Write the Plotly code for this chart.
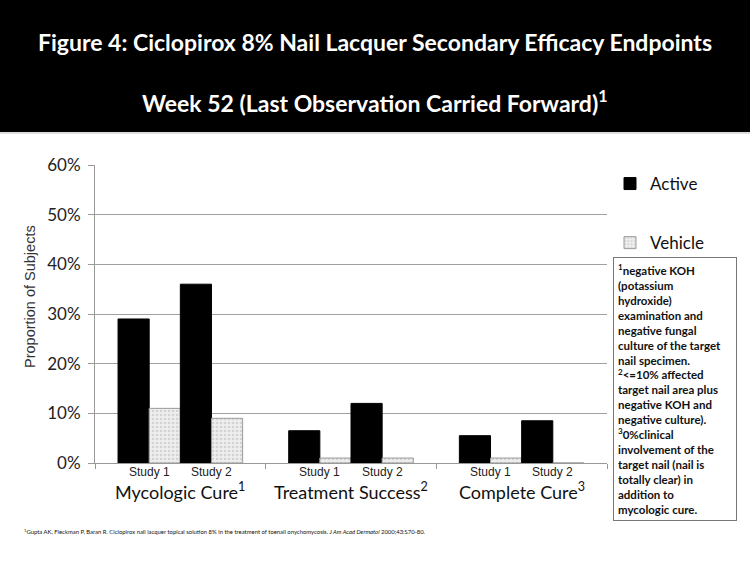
import plotly.graph_objects as go

categories = ["Mycologic Cure<sup>1</sup>", "Treatment Success<sup>2</sup>", "Complete Cure<sup>3</sup>"]
studies = ["Study 1", "Study 2"]
active_study1 = [0.29, 0.065, 0.055]
vehicle_study1 = [0.11, 0.01, 0.01]
active_study2 = [0.36, 0.12, 0.085]
vehicle_study2 = [0.09, 0.01, 0.0]
y_ticks = [0, 0.1, 0.2, 0.3, 0.4, 0.5, 0.6]

W, H = 750, 563
ML, MR, MT, MB = 95, 143, 165, 100
BARGAP = 0.27

def px(x):
    return (x - ML) / (W - ML - MR)

def py(y):
    return (H - MB - y) / (H - MT - MB)

xs = list(range(len(categories)))
FONT = "Lato"

vstyle = dict(color="#ececec", line=dict(color="#9a9a9a", width=1),
              pattern=dict(shape=".", fgcolor="#b8b8b8", bgcolor="#eeeeee", size=4, solidity=0.35))
astyle = dict(color="#000000", line=dict(color="#000000", width=1))

fig = go.Figure()
fig.add_bar(x=xs, y=active_study1, name="Active", legendgroup="a", marker=astyle)
fig.add_bar(x=xs, y=vehicle_study1, name="Vehicle", legendgroup="v", marker=vstyle)
fig.add_bar(x=xs, y=active_study2, name="Active", legendgroup="a", showlegend=False, marker=astyle)
fig.add_bar(x=xs, y=vehicle_study2, name="Vehicle", legendgroup="v", showlegend=False, marker=vstyle)

bw = (1 - BARGAP) / 4
annotations = []
for i, c in enumerate(categories):
    annotations.append(dict(x=i, y=py(491), xref="x", yref="paper", text=c, showarrow=False,
                            font=dict(family=FONT, size=18, color="#111"), xanchor="center", yanchor="middle"))
    for j, s in enumerate(studies):
        annotations.append(dict(x=i - bw + 2 * bw * j, y=py(472), xref="x", yref="paper", text=s,
                                showarrow=False, font=dict(family="Liberation Sans", size=12, color="#222"),
                                xanchor="center", yanchor="middle"))

annotations.append(dict(x=px(W / 2), y=py(42), xref="paper", yref="paper",
                        text="<b>Figure 4: Ciclopirox 8% Nail Lacquer Secondary Efficacy Endpoints</b>",
                        showarrow=False, font=dict(family=FONT, size=23, color="white"), xanchor="center", yanchor="middle"))
annotations.append(dict(x=px(W / 2), y=py(102), xref="paper", yref="paper",
                        text="<b>Week 52 (Last Observation Carried Forward)<sup>1</sup></b>",
                        showarrow=False, font=dict(family=FONT, size=23, color="white"), xanchor="center", yanchor="middle"))

annotations.append(dict(x=px(30), y=py(297), xref="paper", yref="paper", text="Proportion of Subjects", textangle=-90,
                        showarrow=False, font=dict(family="Liberation Sans", size=14.5, color="#333"), xanchor="center", yanchor="middle"))

note = ("<sup>1</sup>negative KOH<br>(potassium<br>hydroxide)<br>examination and<br>negative fungal<br>"
        "culture of the target<br>nail specimen.<br><sup>2</sup><=10% affected<br>target nail area plus<br>"
        "negative KOH and<br>negative culture).<br><sup>3</sup>0%clinical<br>involvement of the<br>"
        "target nail (nail is<br>totally clear) in<br>addition to<br>mycologic cure.")
annotations.append(dict(x=px(613), y=py(257), xref="paper", yref="paper", text="<b>" + note + "</b>", align="left",
                        showarrow=False, font=dict(family=FONT, size=11.5, color="#111"), xanchor="left", yanchor="top",
                        bordercolor="#777", borderwidth=1, borderpad=4, bgcolor="white", width=114))

annotations.append(dict(x=px(22), y=py(531), xref="paper", yref="paper",
                        text="<sup>1</sup>Gupta AK, Fleckman P, Baran R. Ciclopirox nail lacquer topical solution 8% in the treatment of toenail onychomycosis. <i>J Am Acad Dermatol</i> 2000;43:S70-80.",
                        showarrow=False, font=dict(family=FONT, size=5.9, color="#111"), xanchor="left", yanchor="middle"))

shapes = [
    dict(type="rect", xref="paper", yref="paper", x0=px(0), x1=px(W), y0=py(132), y1=py(0),
         fillcolor="black", line=dict(width=0), layer="below"),
    dict(type="line", xref="paper", yref="paper", x0=px(0), x1=px(W), y0=py(133), y1=py(133),
         line=dict(color="#bbbbbb", width=1)),
]

fig.update_layout(
    width=W, height=H, margin=dict(l=ML, r=MR, t=MT, b=MB),
    paper_bgcolor="white", plot_bgcolor="white",
    barmode="group", bargap=BARGAP, bargroupgap=0,
    font=dict(family=FONT, color="#222"),
    showlegend=True,
    legend=dict(x=px(610), y=py(166), xanchor="left", yanchor="top", font=dict(family=FONT, size=17, color="#111"),
                tracegroupgap=34, bgcolor="rgba(0,0,0,0)"),
    annotations=annotations, shapes=shapes,
    xaxis=dict(range=[-0.5, 2.5], tickvals=[-0.5, 0.5, 1.5, 2.5], showticklabels=False,
               ticks="outside", ticklen=5, tickcolor="#999", showline=True, linecolor="#999", linewidth=1,
               showgrid=False, zeroline=False),
    yaxis=dict(range=[0, 0.6], tickvals=y_ticks, tickformat=".0%", ticks="outside", ticklen=6, tickcolor="#999",
               showline=True, linecolor="#999", linewidth=1, showgrid=True, gridcolor="#a0a0a0", gridwidth=1,
               zeroline=False, tickfont=dict(family=FONT, size=17, color="#222"), ticklabelstandoff=4),
)

fig.write_html("out.html", config={"displayModeBar": False},
               post_script="document.body.style.margin='0';document.body.style.overflow='hidden';")
